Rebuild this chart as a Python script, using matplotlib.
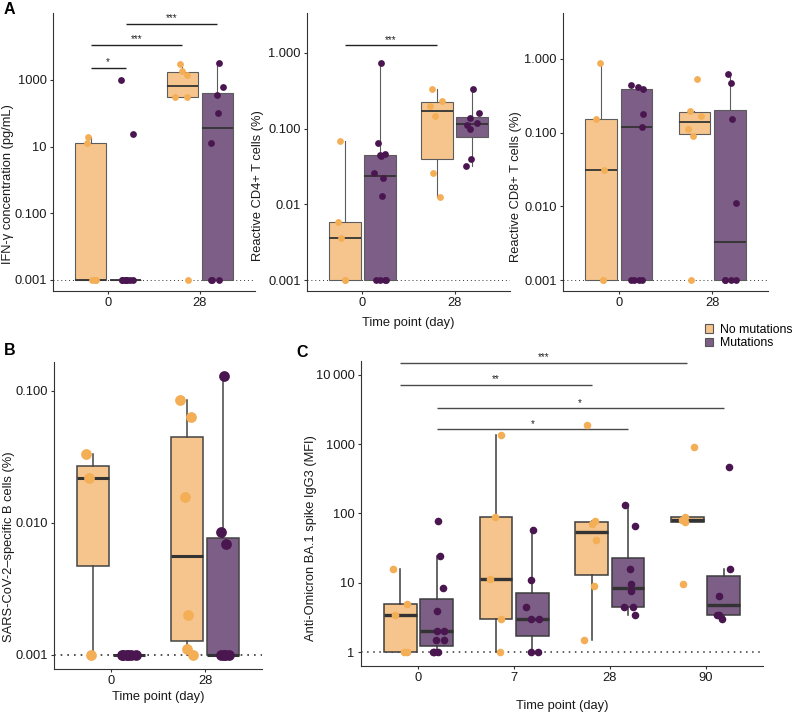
import numpy as np
import matplotlib
matplotlib.use('Agg')
import matplotlib.pyplot as plt
from matplotlib import cbook
from matplotlib.ticker import NullLocator
from matplotlib.patches import Patch

plt.rcParams['font.family'] = ['Liberation Sans', 'DejaVu Sans']
plt.rcParams['font.size'] = 9

# ---- data ----
days_a = ['0', '28']
days_c = ['0', '7', '28', '90']
group_names = ['No mutations', 'Mutations']

# panel A1: IFN-y (pg/mL), one list per day
ifng_nomut = [[0.001, 0.001, 0.001, 13, 19.5],
              [0.001, 309, 316, 1445, 1905, 3020]]
ifng_mut = [[0.001, 0.001, 0.001, 0.001, 0.001, 0.001, 0.001, 0.001, 24, 1000],
            [0.001, 0.001, 0.001, 12.9, 102, 363, 617, 3236]]

# panel A2: reactive CD4+ T cells (%)
cd4_nomut = [[0.001, 0.001, 0.0036, 0.0058, 0.068],
             [0.0126, 0.026, 0.148, 0.20, 0.23, 0.33]]
cd4_mut = [[0.001, 0.001, 0.001, 0.001, 0.013, 0.022, 0.026, 0.043, 0.045, 0.046, 0.065, 0.74],
           [0.032, 0.040, 0.098, 0.11, 0.12, 0.138, 0.162, 0.33]]

# panel A3: reactive CD8+ T cells (%)
cd8_nomut = [[0.001, 0.001, 0.031, 0.151, 0.88],
             [0.001, 0.091, 0.112, 0.17, 0.195, 0.53]]
cd8_mut = [[0.001, 0.001, 0.001, 0.001, 0.12, 0.18, 0.39, 0.42, 0.45],
           [0.001, 0.001, 0.001, 0.001, 0.011, 0.151, 0.47, 0.62]]

# panel B: SARS-CoV-2-specific B cells (%)
bcell_nomut = [[0.001, 0.022, 0.033],
               [0.001, 0.0011, 0.002, 0.0158, 0.063, 0.085]]
bcell_mut = [[0.001, 0.001, 0.001, 0.001, 0.001, 0.001],
             [0.001, 0.001, 0.001, 0.001, 0.0069, 0.0085, 0.13]]

# panel C: anti-Omicron BA.1 spike IgG3 (MFI)
igg3_nomut = [[1, 1, 3.5, 5.0, 16],
              [1, 3, 11.5, 88, 1350],
              [1.5, 9, 41, 71, 78.5, 1900],
              [9.5, 76, 81, 89, 910]]
igg3_mut = [[1, 1, 1, 1.5, 1.5, 2, 2, 4, 8.5, 24, 79],
            [1, 1, 3, 3, 4.5, 11, 57],
            [3.5, 4.5, 4.5, 7.6, 9.5, 16, 67, 133],
            [3, 3.5, 3.5, 6.5, 15.7, 460]]

# significance comparisons: (group, day, group, day, height, label)
sig_ifng = [(0, 0, 1, 0, 2300, '*'), (0, 0, 0, 1, 11500, '***'), (1, 0, 1, 1, 48000, '***')]
sig_cd4 = [(0, 0, 0, 1, 1.26, '***')]
sig_igg3 = [(0, 0, 0, 3, 14800, '***'), (0, 0, 0, 2, 7200, '**'),
            (1, 0, 1, 3, 3300, '*'), (1, 0, 1, 2, 1620, '*')]

# ---- styling ----
fills = ['#F6C58E', '#7C5E86']
pt_cols = ['#F3AE56', '#4A1650']
dodge = [-0.19, 0.19]
W, H = 797, 714
rng = np.random.default_rng(7)

fig = plt.figure(figsize=(W / 100, H / 100), dpi=100)


def add_ax(left, top, right, bottom):
    return fig.add_axes([left / W, 1 - bottom / H, (right - left) / W, (bottom - top) / H])


def fpos(px, py):
    return px / W, 1 - py / H


def draw_panel(ax, nomut, mut, days, lod, ylim, yticks, ylabels, edge, lw, med_lw,
               pt_size, dot_lw, sig=(), sig_col='#222222'):
    ax.set_yscale('log')
    for g, series in enumerate([nomut, mut]):
        for i, vals in enumerate(series):
            vals = np.array(vals, dtype=float)
            # box stats on the log scale, like ggplot with a log10 axis
            st = cbook.boxplot_stats(np.log10(vals))[0]
            for k in ('med', 'q1', 'q3', 'whislo', 'whishi', 'mean'):
                st[k] = 10 ** st[k]
            st['fliers'] = []
            ax.bxp([st], positions=[i + dodge[g]], widths=0.34, showfliers=False,
                   showcaps=False, patch_artist=True,
                   boxprops=dict(facecolor=fills[g], edgecolor=edge, linewidth=lw),
                   whiskerprops=dict(color=edge, linewidth=lw),
                   medianprops=dict(color='#333333', linewidth=med_lw, solid_capstyle='butt'))
            xs = i + dodge[g] + rng.uniform(-0.08, 0.08, len(vals))
            ax.scatter(xs, vals, s=pt_size, color=pt_cols[g], zorder=3, linewidths=0)
    ax.axhline(lod, color='#333333', ls=(0, (1, 3)), lw=dot_lw, zorder=1)
    for g1, d1, g2, d2, y, lab in sig:
        x1, x2 = d1 + dodge[g1], d2 + dodge[g2]
        ax.plot([x1, x2], [y, y], color=sig_col, lw=1.0, solid_capstyle='butt')
        ax.annotate(lab, ((x1 + x2) / 2, y), xytext=(0, 0.3), textcoords='offset points',
                    ha='center', va='bottom', fontsize=7, color='#222222')
    ax.set_xlim(-0.6, len(days) - 0.4)
    ax.set_xticks(range(len(days)), days)
    ax.set_ylim(10 ** ylim[0], 10 ** ylim[1])
    ax.set_yticks(yticks, ylabels)
    ax.yaxis.set_minor_locator(NullLocator())
    for s in ('top', 'right'):
        ax.spines[s].set_visible(False)
    for s in ('left', 'bottom'):
        ax.spines[s].set_color('#333333')
        ax.spines[s].set_linewidth(0.8)
    ax.tick_params(length=2.5, width=0.8, color='#333333', labelcolor='#1a1a1a',
                   labelsize=9.3, pad=2)


def ylab(ax, text, px, py):
    ax.set_ylabel(text, fontsize=9.3, color='#1a1a1a')
    ax.yaxis.set_label_coords(*fpos(px, py), transform=fig.transFigure)


def xlab(ax, text, py):
    ax.set_xlabel(text, fontsize=9.3, color='#1a1a1a')
    bb = ax.get_position()
    ax.xaxis.set_label_coords((bb.x0 + bb.x1) / 2, 1 - py / H, transform=fig.transFigure)


# panel A
a1 = add_ax(53, 13, 255, 291)
draw_panel(a1, ifng_nomut, ifng_mut, days_a, 0.001, (-3.33, 5.01),
           [0.001, 0.1, 10, 1000], ['0.001', '0.100', '10', '1000'],
           '#5c5c5c', 0.8, 1.3, 24, 0.7, sig_ifng)
ylab(a1, 'IFN-\u03b3 concentration (pg/mL)', 14, 184)

a2 = add_ax(307, 13, 510, 291)
draw_panel(a2, cd4_nomut, cd4_mut, days_a, 0.001, (-3.145, 0.527),
           [0.001, 0.01, 0.1, 1.0], ['0.001', '0.01', '0.100', '1.000'],
           '#5c5c5c', 0.8, 1.3, 24, 0.7, sig_cd4)
ylab(a2, 'Reactive CD4+ T cells (%)', 264, 186)
xlab(a2, 'Time point (day)', 317)

a3 = add_ax(563, 13, 768, 291)
draw_panel(a3, cd8_nomut, cd8_mut, days_a, 0.001, (-3.149, 0.624),
           [0.001, 0.01, 0.1, 1.0], ['0.001', '0.010', '0.100', '1.000'],
           '#5c5c5c', 0.8, 1.3, 24, 0.7)
ylab(a3, 'Reactive CD8+ T cells (%)', 522, 187)

# panel B
b = add_ax(54, 362, 262, 669)
draw_panel(b, bcell_nomut, bcell_mut, days_a, 0.001, (-3.11, -0.78),
           [0.001, 0.01, 0.1], ['0.001', '0.010', '0.100'],
           '#444444', 1.1, 2.2, 60, 1.2)
ylab(b, 'SARS-CoV-2\u2013specific B cells (%)', 15, 547)
xlab(b, 'Time point (day)', 691)

# panel C
c = add_ax(361, 361, 763, 666)
draw_panel(c, igg3_nomut, igg3_mut, days_c, 1, (-0.197, 4.196),
           [1, 10, 100, 1000, 10000], ['1', '10', '100', '1000', '10\u2009000'],
           '#3d3d3d', 1.1, 2.4, 30, 1.1, sig_igg3, sig_col='#4a4a4a')
ylab(c, 'Anti-Omicron BA.1 spike IgG3 (MFI)', 317, 538)
xlab(c, 'Time point (day)', 700)

# panel letters
for lab, px, py in [('A', 4, 2), ('B', 4, 343), ('C', 296, 345)]:
    fig.text(*fpos(px, py), lab, fontsize=11.5, fontweight='bold', va='top', ha='left')

# legend
handles = [Patch(facecolor=fills[g], edgecolor='#555555', linewidth=0.8) for g in range(2)]
fig.legend(handles, group_names, loc='upper left', bbox_to_anchor=fpos(705, 324),
           frameon=False, fontsize=8.8, handlelength=0.65, handleheight=0.7,
           handletextpad=0.6, labelspacing=0.1, borderpad=0, borderaxespad=0)

fig.savefig('out.png', dpi=100)
